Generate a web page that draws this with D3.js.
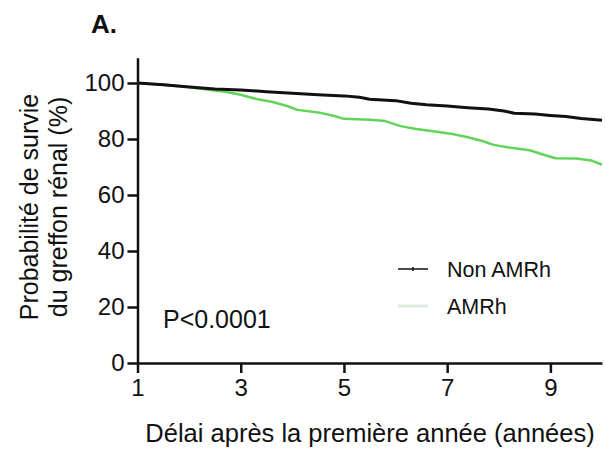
<!DOCTYPE html>
<html>
<head>
<meta charset="utf-8">
<script src="https://cdn.jsdelivr.net/npm/d3@7"></script>
<style>
  html, body { margin: 0; padding: 0; background: #fff; }
  svg { display: block; font-family: "Liberation Sans", Arial, sans-serif; }
</style>
</head>
<body>
<svg id="chart" width="605" height="455"></svg>
<script>
// Kaplan-Meier graft survival after the first year
const xTicks = [1, 3, 5, 7, 9];
const yTicks = [0, 20, 40, 60, 80, 100];

const nonAmrhTime = [1.0, 1.5, 2.0, 2.5, 3.0, 3.5, 4.0, 4.5, 5.0, 5.3, 5.5, 6.0, 6.3, 6.6, 7.0, 7.4, 7.8, 8.1, 8.3, 8.7, 9.0, 9.3, 9.6, 10.0];
const nonAmrhSurv = [100, 99.4, 98.6, 97.9, 97.5, 96.9, 96.3, 95.8, 95.4, 94.9, 94.2, 93.7, 92.8, 92.2, 91.8, 91.2, 90.7, 90.0, 89.2, 88.9, 88.4, 88.0, 87.3, 86.7];

const amrhTime = [1.0, 1.5, 2.0, 2.3, 2.7, 3.0, 3.3, 3.6, 3.9, 4.1, 4.5, 4.8, 5.0, 5.5, 5.8, 6.1, 6.4, 6.8, 7.1, 7.4, 7.7, 7.9, 8.2, 8.6, 8.9, 9.1, 9.5, 9.8, 10.0];
const amrhSurv = [100, 99.4, 98.6, 97.8, 96.9, 95.8, 94.3, 93.3, 91.8, 90.4, 89.5, 88.3, 87.2, 86.9, 86.4, 84.6, 83.6, 82.6, 81.8, 80.6, 79.2, 77.9, 77.0, 76.0, 74.2, 73.1, 73.0, 72.3, 70.8];

const seriesNames = ["Non AMRh", "AMRh"];
const seriesColors = ["#111111", "#62d45a"];

const svg = d3.select("#chart");
const x = d3.scaleLinear().domain([1, 10]).range([137.5, 602]);
const y = d3.scaleLinear().domain([0, 109]).range([363, 57.8]);

// axes
const xAxis = svg.append("g")
  .attr("transform", `translate(0,${y(0)})`)
  .call(d3.axisBottom(x).tickValues(xTicks).tickSize(10).tickPadding(6).tickSizeOuter(0));
const yAxis = svg.append("g")
  .attr("transform", `translate(${x(1)},0)`)
  .call(d3.axisLeft(y).tickValues(yTicks).tickSize(10).tickPadding(3).tickSizeOuter(0));

[xAxis, yAxis].forEach(g => {
  g.select(".domain").attr("stroke", "#111").attr("stroke-width", 2.5);
  g.selectAll(".tick line").attr("stroke", "#111").attr("stroke-width", 2.5);
  g.selectAll(".tick text").attr("fill", "#111").attr("font-size", 24)
    .attr("font-family", "Liberation Sans, Arial, sans-serif");
});

// survival curves
const line = d3.line().x(d => x(d[0])).y(d => y(d[1]));
const series = [
  d3.zip(amrhTime, amrhSurv),
  d3.zip(nonAmrhTime, nonAmrhSurv)
];
svg.append("path").datum(series[0])
  .attr("fill", "none").attr("stroke", seriesColors[1]).attr("stroke-width", 2.5)
  .attr("stroke-linejoin", "round").attr("d", line);
svg.append("path").datum(series[1])
  .attr("fill", "none").attr("stroke", seriesColors[0]).attr("stroke-width", 3)
  .attr("stroke-linejoin", "round").attr("d", line);

// panel label
svg.append("text").attr("x", 91).attr("y", 33)
  .attr("font-size", 26).attr("font-weight", "bold").attr("fill", "#111").text("A.");

// axis titles
svg.append("text").attr("x", 370).attr("y", 442).attr("text-anchor", "middle")
  .attr("font-size", 25.5).attr("fill", "#111")
  .text("Délai après la première année (années)");
const yTitle = svg.append("text").attr("transform", "translate(0,207) rotate(-90)")
  .attr("text-anchor", "middle").attr("font-size", 25).attr("fill", "#111");
yTitle.append("tspan").attr("x", 0).attr("y", 38).text("Probabilité de survie");
yTitle.append("tspan").attr("x", 0).attr("y", 67).text("du greffon rénal (%)");

// p-value
svg.append("text").attr("x", 163).attr("y", 328)
  .attr("font-size", 25).attr("fill", "#111").text("P<0.0001");

// legend
const legendY = [269, 306];
const legendLineColor = ["#111111", "#dfeadf"];
seriesNames.forEach((name, i) => {
  svg.append("line").attr("x1", 398).attr("x2", 428)
    .attr("y1", legendY[i]).attr("y2", legendY[i])
    .attr("stroke", legendLineColor[i]).attr("stroke-width", i === 0 ? 1.5 : 3);
  svg.append("text").attr("x", 447).attr("y", legendY[i] + 8)
    .attr("font-size", 21.5).attr("fill", "#111").text(name);
});
// censor tick on the first legend sample
svg.append("line").attr("x1", 413).attr("x2", 413)
  .attr("y1", legendY[0] - 2).attr("y2", legendY[0] + 2)
  .attr("stroke", "#111").attr("stroke-width", 1.5);
</script>
</body>
</html>
